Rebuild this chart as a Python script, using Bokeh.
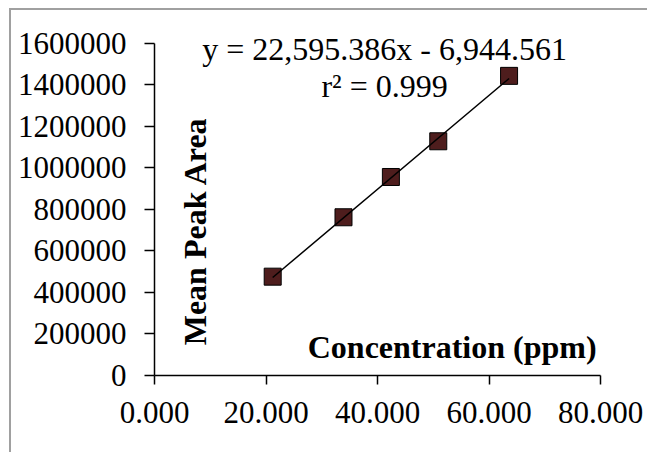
import math
from bokeh.plotting import figure
from bokeh.models import FixedTicker, NumeralTickFormatter, ColumnDataSource
from bokeh.core.properties import value
from bokeh.embed import file_html
from bokeh.resources import INLINE

# ---- data ----
concentration = [21.2, 33.9, 42.4, 50.9, 63.6]
mean_peak_area = [476000, 762000, 956000, 1128000, 1443000]
slope = 22595.386
intercept = -6944.561
r_squared = 0.999
x_ticks = [0, 20, 40, 60, 80]
y_ticks = [0, 200000, 400000, 600000, 800000, 1000000, 1200000, 1400000, 1600000]
equation_label = "y = 22,595.386x - 6,944.561"
r2_label = "r² = 0.999"
x_title = "Concentration (ppm)"
y_title = "Mean Peak Area"

FONT = "Liberation Serif"

# frame extended above the top tick so the equation is not clipped
p = figure(width=638, height=444, x_range=(0, 80), y_range=(0, 1700000),
           output_backend="svg", toolbar_location=None,
           min_border_left=143, min_border_top=12, min_border_right=49, min_border_bottom=79)
p.styles = {"border-left": "2px solid #A0A0A0", "border-top": "2px solid #A0A0A0",
            "margin-left": "9px", "margin-top": "8px"}
p.outline_line_color = None
p.xgrid.visible = False
p.ygrid.visible = False
p.background_fill_color = "white"
p.border_fill_color = "white"

for ax in (p.xaxis[0], p.yaxis[0]):
    ax.axis_line_color = "black"
    ax.axis_line_width = 1.5
    ax.major_tick_line_color = "black"
    ax.major_tick_line_width = 1.5
    ax.major_tick_in = 0
    ax.minor_tick_line_color = None
    ax.major_label_text_font = FONT
    ax.major_label_text_font_size = "31px"
    ax.major_label_text_color = "black"

p.xaxis[0].ticker = FixedTicker(ticks=x_ticks)
p.xaxis[0].formatter = NumeralTickFormatter(format="0.000")
p.xaxis[0].major_tick_out = 9
p.xaxis[0].major_label_standoff = 17

p.yaxis[0].ticker = FixedTicker(ticks=y_ticks)
p.yaxis[0].formatter = NumeralTickFormatter(format="0")
p.yaxis[0].major_tick_out = 10
p.yaxis[0].major_label_standoff = 18
p.yaxis[0].bounds = (y_ticks[0], y_ticks[-1])

src = ColumnDataSource(dict(x=concentration, y=mean_peak_area))
p.scatter("x", "y", source=src, marker="square", size=17,
          fill_color="#4E1D1D", line_color="black", line_width=1)

x0, x1 = min(concentration), max(concentration)
p.line([x0, x1], [slope * x0 + intercept, slope * x1 + intercept],
       line_color="black", line_width=1.5)

p.text(x=[41.26], y=[1573000], text=[equation_label], text_font=value(FONT),
       text_font_size="32px", text_align="center", text_baseline="alphabetic",
       text_color="black")
p.text(x=[41.26], y=[1395000], text=[r2_label], text_font=value(FONT),
       text_font_size="32px", text_align="center", text_baseline="alphabetic",
       text_color="black")
p.text(x=[7.3], y=[696000], text=[y_title], text_font=value(FONT),
       text_font_size="32px", text_font_style="bold", text_align="center",
       text_baseline="alphabetic", angle=math.pi / 2, text_color="black")
p.text(x=[79.3], y=[135000], text=[x_title], text_font=value(FONT),
       text_font_size="32px", text_font_style="bold", text_align="right",
       text_baseline="alphabetic", text_color="black")

open("out.html", "w").write(file_html(p, INLINE))
